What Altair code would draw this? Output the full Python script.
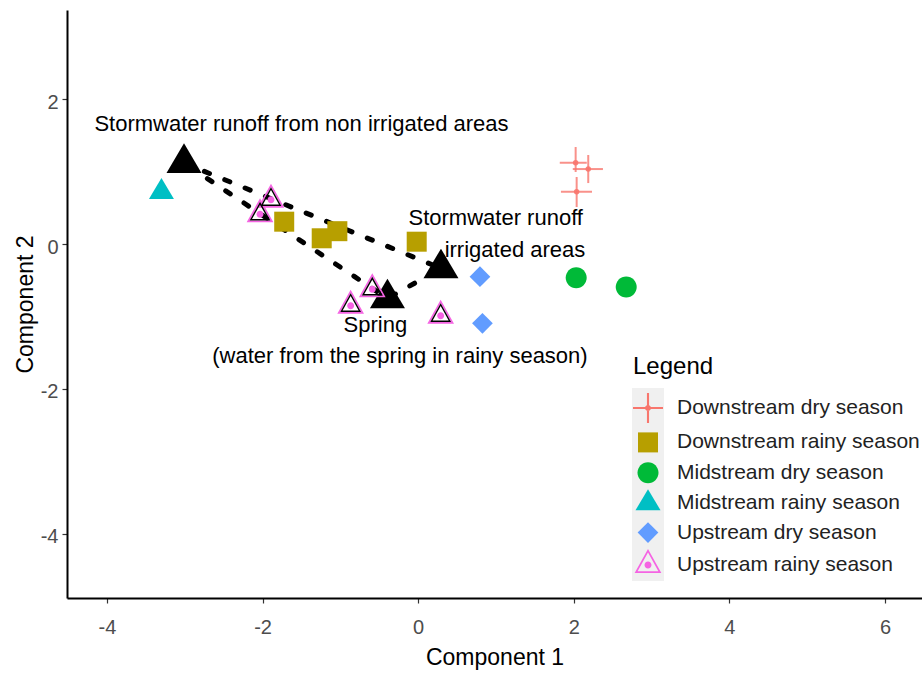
import altair as alt
import pandas as pd

# ---------------- data ----------------
groups = ["Downstream dry season", "Downstream rainy season", "Midstream dry season",
          "Midstream rainy season", "Upstream dry season", "Upstream rainy season"]
group_colors = ["#F8766D", "#B79F00", "#00BA38", "#00BFC4", "#619CFF", "#F564E3"]

dr_x = [-1.722, -1.240, -1.039, -0.019]
dr_y = [0.308, 0.079, 0.177, 0.032]
md_x = [2.031, 2.674]
md_y = [-0.466, -0.593]
mr_x = [-3.300]
mr_y = [0.717]
ud_x = [0.794, 0.826]
ud_y = [-0.451, -1.094]
ur_x = [-1.892, -2.033, -0.590, -0.868, 0.289]
ur_y = [0.611, 0.410, -0.625, -0.851, -0.989]

# downstream dry season: mean with error bars
dd_x = [2.024, 2.186, 2.037]
dd_y = [1.121, 1.034, 0.721]
dd_xlo = [1.820, 1.987, 1.835]
dd_xhi = [2.167, 2.375, 2.234]
dd_ylo = [0.993, 0.841, 0.510]
dd_yhi = [1.338, 1.228, 0.924]

# end members
em_names = ["Stormwater runoff from non irrigated areas", "Spring", "Stormwater runoff irrigated areas"]
em_x = [-3.010, -0.395, 0.293]
em_y = [1.117, -0.752, -0.335]
mix_order = [0, 2, 1, 0]

ann_text = ["Stormwater runoff from non irrigated areas", "Stormwater runoff", "irrigated areas",
            "Spring", "(water from the spring in rainy season)"]
ann_x = [-1.500, 0.997, 1.244, -0.551, -0.234]
ann_y = [1.563, 0.262, -0.183, -1.210, -1.646]

x_ticks = [-4, -2, 0, 2, 4, 6]
y_ticks = [-4, -2, 0, 2]
X_DOM = [-4.514, 6.476]
Y_DOM = [-4.883, 3.228]

# ---------------- tables ----------------
rows = []
for g, xs_, ys_ in [(groups[1], dr_x, dr_y), (groups[2], md_x, md_y), (groups[3], mr_x, mr_y),
                    (groups[4], ud_x, ud_y), (groups[5], ur_x, ur_y)]:
    for a, b in zip(xs_, ys_):
        rows.append({"group": g, "x": a, "y": b})
pts = pd.DataFrame(rows)
ur_df = pd.DataFrame({"x": ur_x, "y": ur_y})
dd_df = pd.DataFrame({"x": dd_x, "y": dd_y, "xlo": dd_xlo, "xhi": dd_xhi, "ylo": dd_ylo, "yhi": dd_yhi})
em_df = pd.DataFrame({"name": em_names, "x": em_x, "y": em_y})
mix_df = pd.DataFrame({"ord": list(range(len(mix_order))),
                       "x": [em_x[i] for i in mix_order], "y": [em_y[i] for i in mix_order]})
ann_df = pd.DataFrame({"text": ann_text, "x": ann_x, "y": ann_y})

# ---------------- symbol shapes ----------------
CROSS = ("M-1,-0.07H1V0.07H-1Z M-0.07,-1H0.07V1H-0.07Z "
         "M0.2,0A0.2,0.2 0 1,1 -0.2,0A0.2,0.2 0 1,1 0.2,0Z")
SQUARE = "M-0.667,-0.667H0.667V0.667H-0.667Z"
CIRCLE = "M0.7,0A0.7,0.7 0 1,1 -0.7,0A0.7,0.7 0 1,1 0.7,0Z"
TRI = "M0,-0.933L0.833,0.467L-0.833,0.467Z"
DIAMOND = "M0,-0.69L0.69,0L0,0.69L-0.69,0Z"
RING_TRI = ("M0,-1.067L0.89,0.533L-0.89,0.533Z M0,-0.83L-0.692,0.415L0.692,0.415Z "
            "M0.233,0A0.233,0.233 0 1,1 -0.233,0A0.233,0.233 0 1,1 0.233,0Z")
RING_BLACK = "M0,-0.83L0.692,0.415L-0.692,0.415Z M0,-0.64L-0.534,0.32L0.534,0.32Z"
BIG_TRI = "M0,-1.311L1.167,0.656L-1.167,0.656Z"

FONT = "Liberation Sans"
SYM = 900
LABEL_EXPR = "datum.value < 0 ? '-' + abs(datum.value) : '' + datum.value"

xs = alt.Scale(domain=X_DOM, nice=False, zero=False)
ys = alt.Scale(domain=Y_DOM, nice=False, zero=False)

x_axis = alt.Axis(values=x_ticks, title="Component 1", grid=False, domainColor="black", domainWidth=2,
                  tickColor="#333333", tickSize=5, tickWidth=1.2, labelFontSize=20, labelColor="#4D4D4D",
                  labelFont=FONT, labelBaseline="alphabetic", labelPadding=30, labelFlush=False,
                  labelExpr=LABEL_EXPR,
                  titleFont=FONT, titleFontSize=23, titleFontWeight="normal", titleColor="black",
                  titleBaseline="alphabetic", titleY=66, titleX=427.5)
y_axis = alt.Axis(values=y_ticks, title="Component 2", grid=False, domainColor="black", domainWidth=2,
                  tickColor="#333333", tickSize=5, tickWidth=1.2, labelFontSize=20, labelColor="#4D4D4D",
                  labelFont=FONT, labelBaseline="alphabetic", labelOffset=9, labelPadding=4, labelFlush=False,
                  labelExpr=LABEL_EXPR,
                  titleFont=FONT, titleFontSize=23, titleFontWeight="normal", titleColor="black",
                  titleBaseline="alphabetic", titleX=-35, titleY=294)

legend = alt.Legend(title="Legend", orient="none", legendX=566, legendY=345, symbolSize=SYM,
                    symbolStrokeWidth=0, symbolOpacity=1, rowPadding=4.4, labelOffset=14,
                    titlePadding=14, titleFont=FONT, titleFontSize=24, titleFontWeight="normal",
                    titleColor="black", labelFont=FONT, labelFontSize=21, labelColor="#222222",
                    labelLimit=400)

color_scale = alt.Scale(domain=groups, range=group_colors)
shape_scale = alt.Scale(domain=groups, range=[CROSS, SQUARE, CIRCLE, TRI, DIAMOND, RING_TRI])

X = alt.X("x:Q", scale=xs, axis=x_axis)
Y = alt.Y("y:Q", scale=ys, axis=y_axis)

key_bg = alt.Chart(pd.DataFrame({"k": [0]})).mark_rect(color="#F0F0F0").encode(
    x=alt.value(565), x2=alt.value(597), y=alt.value(378), y2=alt.value(571))

mix_lines = alt.Chart(mix_df).mark_line(color="black", strokeWidth=5, strokeDash=[5.5, 16.5],
                                        strokeCap="round").encode(
    x=X, y=Y, order=alt.Order("ord:Q"))

em_pts = alt.Chart(em_df).mark_point(filled=True, size=SYM, shape=BIG_TRI, color="black",
                                     opacity=1, strokeWidth=0).encode(x=X, y=Y)

main_pts = alt.Chart(pts).mark_point(filled=True, size=SYM, opacity=1, strokeWidth=0).encode(
    x=X, y=Y,
    color=alt.Color("group:N", scale=color_scale, legend=legend),
    shape=alt.Shape("group:N", scale=shape_scale, legend=legend))

ur_inner = alt.Chart(ur_df).mark_point(filled=True, size=SYM, shape=RING_BLACK, color="black",
                                       opacity=1, strokeWidth=0).encode(x=X, y=Y)

err_h = alt.Chart(dd_df).mark_rule(color="#F8766D", strokeWidth=2, opacity=0.8).encode(
    x=X, x2="xhi:Q", y=Y).transform_calculate(x="datum.xlo")
err_v = alt.Chart(dd_df).mark_rule(color="#F8766D", strokeWidth=2, opacity=0.8).encode(
    x=X, y=alt.Y("ylo:Q", scale=ys, axis=y_axis), y2="yhi:Q")
err_pt = alt.Chart(dd_df).mark_point(filled=True, shape="circle", size=30, color="#F8766D",
                                     opacity=0.9, strokeWidth=0).encode(x=X, y=Y)

ann = alt.Chart(ann_df).mark_text(font=FONT, fontSize=22, color="black", align="center",
                                  baseline="alphabetic").encode(x=X, y=Y, text="text:N")

chart = alt.layer(key_bg, mix_lines, em_pts, main_pts, ur_inner, err_h, err_v, err_pt, ann).properties(
    width=855, height=588,
    padding={"left": 67, "top": 10, "right": 0, "bottom": 75},
    autosize=alt.AutoSizeParams(type="none"),
    background="white",
).configure(font=FONT).configure_view(strokeWidth=0, stroke="transparent")

chart.save("out.html", embed_options={"renderer": "svg", "actions": False})
